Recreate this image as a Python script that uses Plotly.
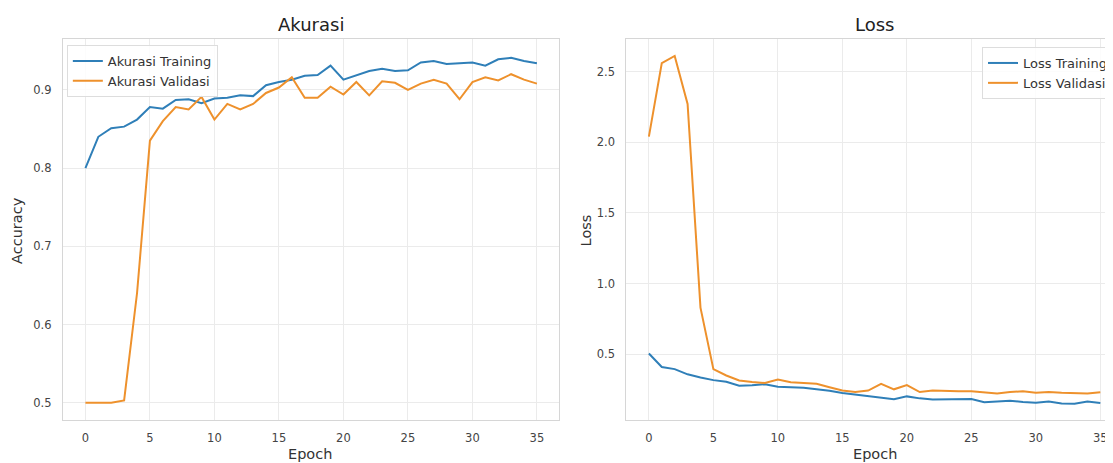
import plotly.graph_objects as go

epochs = list(range(36))

acc_train = [0.800, 0.840, 0.851, 0.853, 0.862, 0.878, 0.876, 0.887, 0.888, 0.883,
             0.889, 0.890, 0.893, 0.892, 0.906, 0.910, 0.913, 0.918, 0.919, 0.931,
             0.913, 0.918, 0.924, 0.927, 0.924, 0.925, 0.935, 0.937, 0.933, 0.934,
             0.935, 0.931, 0.939, 0.941, 0.937, 0.934]
acc_val = [0.500, 0.500, 0.500, 0.503, 0.640, 0.835, 0.860, 0.878, 0.875, 0.891,
           0.862, 0.882, 0.875, 0.882, 0.896, 0.903, 0.916, 0.890, 0.890, 0.904,
           0.894, 0.910, 0.893, 0.911, 0.909, 0.900, 0.908, 0.913, 0.908, 0.888,
           0.910, 0.916, 0.912, 0.920, 0.913, 0.908]
loss_train = [0.505, 0.410, 0.395, 0.358, 0.335, 0.317, 0.305, 0.278, 0.280, 0.288,
              0.270, 0.266, 0.263, 0.252, 0.242, 0.226, 0.216, 0.207, 0.197, 0.182,
              0.202, 0.188, 0.180, 0.180, 0.184, 0.184, 0.160, 0.166, 0.171, 0.162,
              0.157, 0.166, 0.152, 0.150, 0.165, 0.155]
loss_val = [2.04, 2.56, 2.61, 2.27, 0.83, 0.395, 0.350, 0.315, 0.303, 0.297,
            0.322, 0.302, 0.297, 0.292, 0.267, 0.243, 0.233, 0.243, 0.290, 0.252,
            0.282, 0.233, 0.243, 0.238, 0.238, 0.238, 0.228, 0.223, 0.233, 0.238,
            0.228, 0.233, 0.228, 0.225, 0.222, 0.232]

BLUE = "#2f7fb8"
ORANGE = "#ee912c"
# page body has an 8px margin: figure coords = screen coords - 8
OFF = 8
W, H = 1113 - OFF, 463 - OFF

def px(x):
    return (x - OFF) / W

def py(y):
    return 1 - (y - OFF) / H

fig = go.Figure()
fig.add_trace(go.Scatter(x=epochs, y=acc_train, mode="lines", name="Akurasi Training",
                         line=dict(color=BLUE, width=2), xaxis="x", yaxis="y", legend="legend"))
fig.add_trace(go.Scatter(x=epochs, y=acc_val, mode="lines", name="Akurasi Validasi",
                         line=dict(color=ORANGE, width=2), xaxis="x", yaxis="y", legend="legend"))
fig.add_trace(go.Scatter(x=epochs, y=loss_train, mode="lines", name="Loss Training",
                         line=dict(color=BLUE, width=2), xaxis="x2", yaxis="y2", legend="legend2"))
fig.add_trace(go.Scatter(x=epochs, y=loss_val, mode="lines", name="Loss Validasi",
                         line=dict(color=ORANGE, width=2), xaxis="x2", yaxis="y2", legend="legend2"))

tickfont = dict(family="DejaVu Sans", size=11.5, color="#444444")
grid = "#ebebeb"
frame = "#d6d6d6"

common_x = dict(tickmode="array", tickvals=[0, 5, 10, 15, 20, 25, 30, 35],
                showgrid=True, gridcolor=grid, gridwidth=1, zeroline=False,
                tickfont=tickfont, ticks="outside", ticklen=7, tickcolor="rgba(0,0,0,0)",
                showline=True, linecolor=frame, linewidth=1, mirror=True)

legfont = dict(family="DejaVu Sans", size=13, color="#333333")

fig.update_layout(
    width=W, height=H,
    margin=dict(l=0, r=0, t=0, b=0),
    paper_bgcolor="white", plot_bgcolor="white",
    font=dict(family="DejaVu Sans", color="#333333"),
    xaxis=dict(domain=[px(63), px(561)], range=[-1.75, 36.75], anchor="y", **common_x),
    yaxis=dict(domain=[py(420), py(39)], range=[0.478, 0.965], anchor="x",
               tickmode="array", tickvals=[0.5, 0.6, 0.7, 0.8, 0.9],
               showgrid=True, gridcolor=grid, zeroline=False, tickfont=tickfont,
               ticks="outside", ticklen=8, tickcolor="rgba(0,0,0,0)",
               showline=True, linecolor=frame, linewidth=1, mirror=True),
    xaxis2=dict(domain=[px(628), 1.0], range=[-1.75, 35.75], anchor="y2", **common_x),
    yaxis2=dict(domain=[py(420), py(39)], range=[0.035, 2.73], anchor="x2",
                tickmode="array", tickvals=[0.5, 1.0, 1.5, 2.0, 2.5],
                ticktext=["0.5", "1.0", "1.5", "2.0", "2.5"],
                showgrid=True, gridcolor=grid, zeroline=False, tickfont=tickfont,
                ticks="outside", ticklen=8, tickcolor="rgba(0,0,0,0)",
                showline=True, linecolor=frame, linewidth=1, mirror=False),
    legend=dict(x=px(67), y=py(45), xanchor="left", yanchor="top",
                bgcolor="rgba(255,255,255,0.85)", bordercolor="#dddddd", borderwidth=1,
                font=legfont, itemwidth=30, tracegroupgap=0),
    legend2=dict(x=px(985), y=py(47), xanchor="left", yanchor="top",
                 bgcolor="rgba(255,255,255,0.85)", bordercolor="#dddddd", borderwidth=1,
                 font=legfont, itemwidth=30, tracegroupgap=0),
    showlegend=True,
)

ann_font = dict(family="DejaVu Sans", size=14.5, color="#333333")
title_font = dict(family="DejaVu Sans", size=18, color="#222222")

def label(text, x, y, font, angle=0):
    fig.add_annotation(text=text, x=px(x), y=py(y), xref="paper", yref="paper",
                       xanchor="center", yanchor="middle", showarrow=False,
                       textangle=angle, font=font)

label("Akurasi", 312, 25, title_font)
label("Loss", 877, 25, title_font)
label("Epoch", 311, 454, ann_font)
label("Epoch", 877, 454, ann_font)
label("Accuracy", 17, 230, ann_font, -90)
label("Loss", 588, 230, ann_font, -90)

fig.write_html("out.html")
